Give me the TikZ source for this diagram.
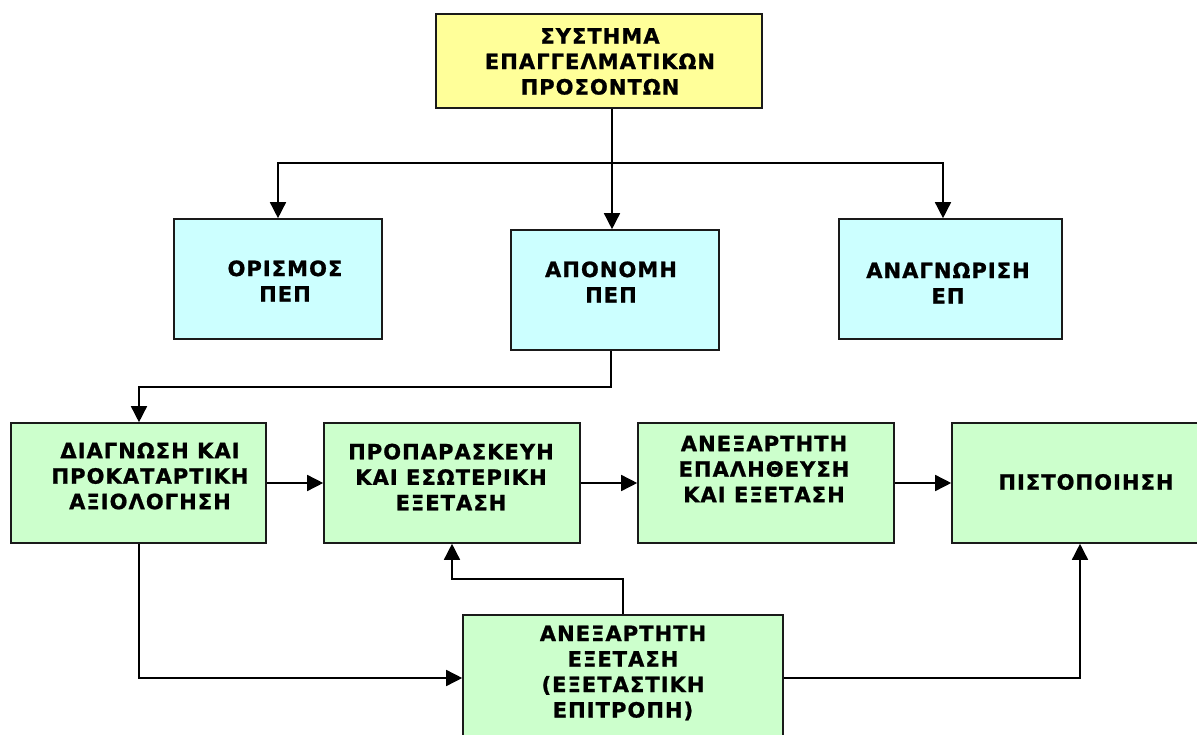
\documentclass[tikz,border=0pt]{standalone}
\usepackage{fontspec}
\newfontfamily\vb{DejaVu Sans Bold}[LetterSpace=5, FakeBold=1]
\usetikzlibrary{arrows.meta}
\definecolor{yel}{HTML}{FFFF99}
\definecolor{cya}{HTML}{CCFFFF}
\definecolor{gre}{HTML}{CCFFCC}
\definecolor{bord}{HTML}{1A1A1A}
\tikzset{
  box/.style={draw=bord, line width=1.6pt, inner sep=0pt},
  txt/.style={align=center, font=\fontsize{21}{25.5}\vb, inner sep=0pt},
  conn/.style={line width=1.5pt, draw=black, line join=miter},
  tip/.tip={Triangle[length=16pt,width=16pt]},
  arr/.style={conn, -tip},
  darr/.style={conn, tip-tip},
}
\begin{document}
\begin{tikzpicture}[x=1pt,y=-1pt]
\useasboundingbox (0,0) rectangle (1197,735);
% boxes
\node[box, fill=yel, minimum width=326pt, minimum height=94pt] (top) at (599,61) {};
\node[box, fill=cya, minimum width=208pt, minimum height=120pt] (oris) at (278,279) {};
\node[box, fill=cya, minimum width=208pt, minimum height=120pt] (apon) at (615,290) {};
\node[box, fill=cya, minimum width=223pt, minimum height=120pt] (anag) at (950.5,279) {};
\node[box, fill=gre, minimum width=255pt, minimum height=120pt] (diag) at (138.5,483) {};
\node[box, fill=gre, minimum width=256pt, minimum height=120pt] (prop) at (452,483) {};
\node[box, fill=gre, minimum width=256pt, minimum height=120pt] (anex) at (766,483) {};
\node[box, fill=gre, minimum width=268pt, minimum height=120pt] (pist) at (1086,483) {};
\node[box, fill=gre, minimum width=320pt, minimum height=150pt] (exet) at (623,690) {};
% texts
\node[txt] (topt) at (600,61.5) {ΣΥΣΤΗΜΑ\\ΕΠΑΓΓΕΛΜΑΤΙΚΩΝ\\ΠΡΟΣΟΝΤΩΝ};
\node[txt] (orist) at (285,281) {ΟΡΙΣΜΟΣ\\ΠΕΠ};
\node[txt] (apont) at (611,282) {ΑΠΟΝΟΜΗ\\ΠΕΠ};
\node[txt] (anagt) at (948,283) {ΑΝΑΓΝΩΡΙΣΗ\\ΕΠ};
\node[txt] (diagt) at (150,476) {ΔΙΑΓΝΩΣΗ ΚΑΙ\\ΠΡΟΚΑΤΑΡΤΙΚΗ\\ΑΞΙΟΛΟΓΗΣΗ};
\node[txt] (propt) at (451,477) {ΠΡΟΠΑΡΑΣΚΕΥΗ\\ΚΑΙ ΕΣΩΤΕΡΙΚΗ\\ΕΞΕΤΑΣΗ};
\node[txt] (anext) at (764,469) {ΑΝΕΞΑΡΤΗΤΗ\\ΕΠΑΛΗΘΕΥΣΗ\\ΚΑΙ ΕΞΕΤΑΣΗ};
\node[txt] (pistt) at (1086,482) {ΠΙΣΤΟΠΟΙΗΣΗ};
\node[txt] (exett) at (623,673) {ΑΝΕΞΑΡΤΗΤΗ\\ΕΞΕΤΑΣΗ\\(ΕΞΕΤΑΣΤΙΚΗ\\ΕΠΙΤΡΟΠΗ)};
% helper coordinates
\coordinate (xm) at (612,163);
\coordinate (xl) at (278,163);
\coordinate (xr) at (943,163);
\coordinate (xa) at (611,387);
\coordinate (xd) at (139,387);
\coordinate (xe) at (139,678);
\coordinate (xp) at (623,579);
\coordinate (xq) at (452,579);
\coordinate (xs) at (1080,678);
% connectors
\draw[arr] (top.south -| xm) -- (apon.north -| xm);
\draw[darr] (oris.north -| xl) -- (xl) -- (xr) -- (anag.north -| xr);
\draw[arr] (apon.south -| xa) -- (xa) -- (xd) -- (diag.north -| xd);
\draw[arr] (diag.east) -- (prop.west);
\draw[arr] (prop.east) -- (anex.west);
\draw[arr] (anex.east) -- (pist.west);
\draw[arr] (diag.south -| xe) -- (xe) -- (exet.west |- xe);
\draw[arr] (exet.north -| xp) -- (xp) -- (xq) -- (prop.south -| xq);
\draw[arr] (exet.east |- xs) -- (xs) -- (pist.south -| xs);
\end{tikzpicture}
\end{document}
